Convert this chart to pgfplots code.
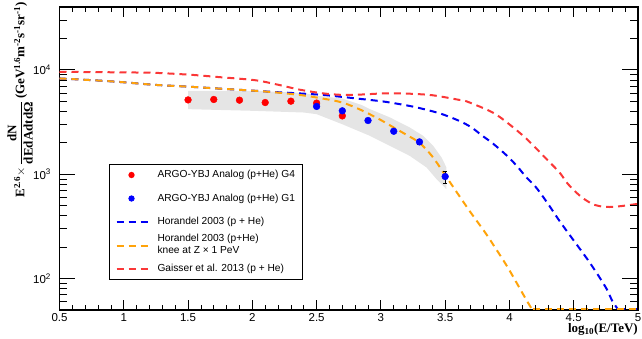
\documentclass[border=0pt]{standalone}
\usepackage{fontspec}
\setmainfont{Liberation Sans}
\newfontfamily\tnr{Liberation Serif}
\usepackage{amsmath}
\usepackage{pgfplots}
\pgfplotsset{compat=1.18}

\definecolor{gsred}{RGB}{250,55,55}
\definecolor{hblue}{RGB}{0,0,245}
\definecolor{horange}{RGB}{255,163,10}
\definecolor{ptred}{RGB}{255,0,0}
\definecolor{ptblue}{RGB}{0,0,255}

\pgfplotsset{
  dot legend/.style={legend image code/.code={\draw[##1] plot coordinates {(15pt,0pt)};}},
  dash legend/.style={legend image code/.code={\draw[##1] (0pt,0pt) -- (31pt,0pt);}},
}

\begin{document}
\begin{tikzpicture}
\begin{axis}[
  at={(0,0)}, anchor=south west,
  scale only axis, width=578.5pt, height=303pt,
  xmin=0.5, xmax=5,
  ymode=log, ymin=50, ymax=40000,
  xtick={0.5,1,1.5,2,2.5,3,3.5,4,4.5,5},
  xticklabels={0.5,1,1.5,2,2.5,3,3.5,4,4.5,5},
  ytick={100,1000,10000},
  yticklabels={10\textsuperscript{2},10\textsuperscript{3},10\textsuperscript{4}},
  tick style={draw=none},
  tick label style={font=\fontsize{11.5}{13}\selectfont},
  xticklabel style={inner sep=1pt, yshift=-2pt},
  yticklabel style={xshift=-5pt},
  axis line style={line width=1.3pt},
  xlabel={\tnr\bfseries\fontsize{13}{15}\selectfont log\textsubscript{10}(E/TeV)},
  xlabel style={at={(axis description cs:1,-0.0759)}, anchor=base east, inner sep=0pt},
  ylabel={\tnr\bfseries\fontsize{13}{15}\selectfont E\textsuperscript{2.6}$\times$\,$\dfrac{\text{dN}}{\text{dEdAdtdΩ}}$\,(GeV\textsuperscript{1.6}m\textsuperscript{-2}s\textsuperscript{-1}sr\textsuperscript{-1})},
  ylabel style={at={(axis description cs:-0.0458,1.0165)}, anchor=south east, inner sep=0pt},
  legend style={at={(axis description cs:0.0856,0.4818)}, anchor=north west,
    draw=black, line width=1pt, fill=white,
    font=\fontsize{10.2}{12}\selectfont, row sep=10.5pt, column sep=7pt,
    nodes={text height=7pt, text depth=2pt},
    inner xsep=6pt, inner ysep=4pt},
  legend cell align=left,
]

% systematic band around the measurements
\addplot[fill=gray!20, draw=none, forget plot] coordinates {
  (1.5,6300) (2.0,6300) (2.4,6000) (2.5,5650) (2.7,5300) (2.85,4600)
  (2.915,4200) (3.07,3500) (3.225,2800) (3.33,2330) (3.407,1870)
  (3.472,1445) (3.51,1160)
  (3.51,718) (3.433,896) (3.355,1160) (3.225,1497) (3.07,1870)
  (2.915,2330) (2.7,3010) (2.5,3760) (2.4,3900) (2.0,4050) (1.5,4200)
} -- cycle;

% Horandel 2003 (p + He)
\addplot[hblue, line width=2pt, dash pattern=on 7pt off 5pt, smooth, forget plot] coordinates {
  (0.5,8270) (0.8,7900) (1.0,7600) (1.24,7180) (1.5,6900) (1.75,6600)
  (2.02,6300) (2.2,6100) (2.37,5940) (2.55,5750) (2.7,5500) (2.85,5250)
  (3.02,4970) (3.15,4680) (3.28,4360) (3.46,3820) (3.61,3240) (3.705,2805)
  (3.783,2366) (3.861,2014) (3.933,1698) (4.003,1415) (4.068,1159)
  (4.133,929) (4.21,740) (4.30,520) (4.39,356) (4.47,260) (4.55,191)
  (4.62,145) (4.70,103) (4.76,78) (4.80,61) (4.845,50.6)
};
\addplot[hblue, line width=2pt, dash pattern=on 7pt off 5pt, forget plot] coordinates {
  (4.845,50.6) (5.0,50.6)
};

% Horandel 2003 (p+He), knee at Z x 1 PeV
\addplot[horange, line width=2pt, dash pattern=on 7pt off 5pt, smooth, forget plot] coordinates {
  (0.5,8270) (0.8,7900) (1.0,7600) (1.24,7180) (1.5,6900) (1.75,6600)
  (2.02,6300) (2.2,6050) (2.39,5700) (2.55,5300) (2.7,4860) (2.85,4100)
  (3.0,3300) (3.1,2800) (3.2,2380) (3.3,2000) (3.4,1480) (3.5,980)
  (3.6,645) (3.7,427) (3.82,266) (3.98,132) (4.10,73) (4.17,52) (4.18,50.6)
};
\addplot[horange, line width=2pt, dash pattern=on 7pt off 5pt, forget plot] coordinates {
  (4.18,50.6) (5.0,50.6)
};

% Gaisser et al. 2013 (p + He)
\addplot[gsred, line width=2pt, dash pattern=on 7pt off 5pt, smooth, forget plot] coordinates {
  (0.5,9570) (0.8,9500) (1.0,9450) (1.24,9360) (1.5,9000) (1.63,8750)
  (1.75,8500) (2.02,7960) (2.2,7200) (2.37,6450) (2.55,5950) (2.705,5750)
  (2.85,5800) (3.02,5940) (3.2,5920) (3.40,5710) (3.61,5150) (3.67,4970)
  (3.87,3900) (4.0,3000) (4.135,2170) (4.29,1390) (4.39,1037) (4.45,820)
  (4.52,667) (4.58,580) (4.65,515) (4.72,490) (4.78,485) (4.87,495)
  (4.96,512) (5.0,520)
};

% ARGO-YBJ analog, G4
\addplot[only marks, mark=*, mark size=3.4pt, ptred, forget plot] coordinates {
  (1.5,5150) (1.7,5200) (1.9,5120) (2.1,4860) (2.3,5010) (2.5,4800) (2.7,3620)
};
% ARGO-YBJ analog, G1
\addplot[only marks, mark=*, mark size=3.4pt, ptblue, forget plot] coordinates {
  (2.5,4460) (2.7,4050) (2.9,3270) (3.1,2580)
};
\addplot[only marks, mark=*, mark size=3.4pt, ptblue, forget plot,
  error bars/.cd, y dir=both, y explicit,
  error bar style={black, line width=0.8pt},
  error mark options={black, rotate=90, mark size=2pt, line width=0.8pt}] coordinates {
  (3.3,2040) +- (0,110)
  (3.5,950) +- (0,125)
};

% tick marks on all four sides of the frame (lengths given in data units)
\pgfplotsinvokeforeach{0.5,1,1.5,2,2.5,3,3.5,4,4.5,5}{
  \draw[black, line width=0.8pt] (axis cs:#1,50) -- (axis cs:#1,62.3);
  \draw[black, line width=0.8pt] (axis cs:#1,40000) -- (axis cs:#1,32080);
}
\pgfplotsinvokeforeach{0.6,0.7,0.8,0.9,1.1,1.2,1.3,1.4,1.6,1.7,1.8,1.9,2.1,2.2,2.3,2.4,2.6,2.7,2.8,2.9,3.1,3.2,3.3,3.4,3.6,3.7,3.8,3.9,4.1,4.2,4.3,4.4,4.6,4.7,4.8,4.9}{
  \draw[black, line width=0.8pt] (axis cs:#1,50) -- (axis cs:#1,55.8);
  \draw[black, line width=0.8pt] (axis cs:#1,40000) -- (axis cs:#1,35810);
}
\pgfplotsinvokeforeach{100,1000,10000}{
  \draw[black, line width=0.8pt] (axis cs:0.5,#1) -- (axis cs:0.6244,#1);
  \draw[black, line width=0.8pt] (axis cs:5,#1) -- (axis cs:4.8756,#1);
}
\pgfplotsinvokeforeach{60,70,80,90,200,300,400,500,600,700,800,900,2000,3000,4000,5000,6000,7000,8000,9000,20000,30000}{
  \draw[black, line width=0.8pt] (axis cs:0.5,#1) -- (axis cs:0.5622,#1);
  \draw[black, line width=0.8pt] (axis cs:5,#1) -- (axis cs:4.9378,#1);
}

\addlegendimage{only marks, mark=*, mark size=2.6pt, ptred, dot legend}
\addlegendentry{ARGO-YBJ Analog (p+He) G4}
\addlegendimage{only marks, mark=*, mark size=2.6pt, ptblue, dot legend}
\addlegendentry{ARGO-YBJ Analog (p+He) G1}
\addlegendimage{hblue, line width=2pt, dash pattern=on 7pt off 5pt, dash legend}
\addlegendentry{Horandel 2003 (p + He)}
\addlegendimage{horange, line width=2pt, dash pattern=on 7pt off 5pt, dash legend}
\addlegendentry{\begin{tabular}{@{}l@{}} Horandel 2003 (p+He)\\knee at Z × 1 PeV\end{tabular}}
\addlegendimage{gsred, line width=2pt, dash pattern=on 7pt off 5pt, dash legend}
\addlegendentry{Gaisser et al. 2013 (p + He)}
\end{axis}
\pgfresetboundingbox
\useasboundingbox (-59.5pt,-28pt) rectangle (582.5pt,310pt);
\end{tikzpicture}
\end{document}
